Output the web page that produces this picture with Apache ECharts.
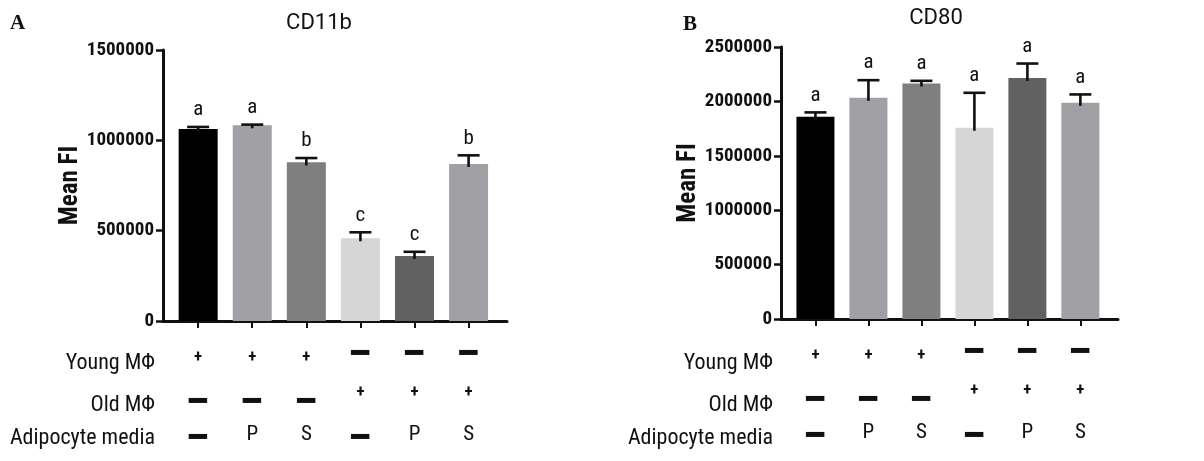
<!DOCTYPE html>
<html>
<head>
<meta charset="utf-8">
<script src="https://cdn.jsdelivr.net/npm/echarts@6/dist/echarts.min.js"></script>
<style>
  html, body { margin: 0; padding: 0; background: #ffffff; }
  #chart { width: 1204px; height: 461px; }
</style>
</head>
<body>
<div id="chart"></div>
<script>
// Treatment table rows (one entry per bar)
const rowNames = ['Young MΦ', 'Old MΦ', 'Adipocyte media'];
const youngMac = ['+', '+', '+', '−', '−', '−'];
const oldMac = ['−', '−', '−', '+', '+', '+'];
const adipocyteMedia = ['−', 'P', 'S', '−', 'P', 'S'];

// CD11b mean fluorescence intensity, SEM and significance letters
const cd11bMean = [1063000, 1083000, 878000, 458000, 360000, 869000];
const cd11bSem = [11000, 4000, 24000, 33000, 23000, 48000];
const cd11bLetters = ['a', 'a', 'b', 'c', 'c', 'b'];
const cd11bTicks = [0, 500000, 1000000, 1500000];

// CD80 mean fluorescence intensity, SEM and significance letters
const cd80Mean = [1859000, 2033000, 2165000, 1758000, 2216000, 1987000];
const cd80Sem = [40000, 162000, 24000, 321000, 132000, 77000];
const cd80Letters = ['a', 'a', 'a', 'a', 'a', 'a'];
const cd80Ticks = [0, 500000, 1000000, 1500000, 2000000, 2500000];

const barColors = ['#000000', '#a0a0a5', '#7f7f7f', '#d6d6d6', '#616161', '#a0a0a5'];
const FONT = "'Roboto Condensed', 'Liberation Sans Narrow', 'Arial Narrow', sans-serif";
const INK = '#111111';

const chart = echarts.init(document.getElementById('chart'), null, { renderer: 'canvas' });

function yAxisFor(gridIndex, ticks) {
  return {
    type: 'value',
    gridIndex: gridIndex,
    min: ticks[0],
    max: ticks[ticks.length - 1],
    interval: ticks[1] - ticks[0],
    name: 'Mean FI',
    nameLocation: 'middle',
    nameGap: 61,
    nameTextStyle: { fontFamily: FONT, fontWeight: 'bold', fontSize: 25, color: INK },
    axisLine: { show: true, onZero: false, lineStyle: { color: INK, width: 3 } },
    axisTick: { show: true, length: 7, lineStyle: { color: INK, width: 2.5 } },
    axisLabel: {
      margin: 9, fontFamily: FONT, fontWeight: 'bold', fontSize: 19, color: INK,
      formatter: v => String(v)
    },
    splitLine: { show: false }
  };
}

function xAxisFor(gridIndex) {
  return {
    type: 'value',
    gridIndex: gridIndex,
    min: -0.65,
    max: 5.71,
    axisLine: { show: true, onZero: false, lineStyle: { color: INK, width: 3 } },
    axisTick: { show: true, customValues: [0, 1, 2, 3, 4, 5], length: 7, lineStyle: { color: INK, width: 2 } },
    axisLabel: { show: false },
    splitLine: { show: false }
  };
}

function barSeries(axisIndex, means, width) {
  return {
    type: 'bar',
    xAxisIndex: axisIndex,
    yAxisIndex: axisIndex,
    barWidth: width,
    z: 2,
    silent: true,
    data: means.map((v, i) => ({ value: [i, v], itemStyle: { color: barColors[i] } }))
  };
}

// Upper error whisker plus the significance letter above it
function errorSeries(axisIndex, means, sems, letters) {
  return {
    type: 'custom',
    xAxisIndex: axisIndex,
    yAxisIndex: axisIndex,
    z: 3,
    silent: true,
    data: means.map((v, i) => [i, v, sems[i]]),
    renderItem: function (params, api) {
      const x = api.value(0);
      const mean = api.value(1);
      const top = api.coord([x, mean]);
      const cap = api.coord([x, mean + api.value(2)]);
      const stroke = { stroke: INK, lineWidth: 2.6 };
      return {
        type: 'group',
        children: [
          { type: 'line', shape: { x1: cap[0], y1: top[1] + 3, x2: cap[0], y2: cap[1] }, style: stroke },
          { type: 'line', shape: { x1: cap[0] - 11, y1: cap[1], x2: cap[0] + 11, y2: cap[1] }, style: stroke },
          {
            type: 'text',
            x: cap[0],
            y: cap[1] - 17,
            style: {
              text: letters[params.dataIndex],
              align: 'center', verticalAlign: 'middle',
              font: '21px ' + FONT, fill: INK
            }
          }
        ]
      };
    }
  };
}

// Treatment table drawn under each bar column
function tableSeries(axisIndex) {
  return {
    type: 'custom',
    xAxisIndex: axisIndex,
    yAxisIndex: axisIndex,
    silent: true,
    clip: false,
    data: youngMac.map((s, i) => [i, 0]),
    renderItem: function (params, api) {
      const i = params.dataIndex;
      const base = api.coord([api.value(0), 0]);
      const cell = (sym, plusDy, minusDy, otherDy) => {
        let dy, font, sx = 1, sy = 1;
        if (sym === '+') { dy = plusDy; font = 'bold 17px ' + FONT; }
        else if (sym === '−') { dy = minusDy; font = '22px "DejaVu Sans"'; sx = 1.1; sy = 0.62; }
        else { dy = otherDy; font = '21px ' + FONT; }
        return {
          type: 'text',
          x: base[0],
          y: base[1] + dy,
          scaleX: sx,
          scaleY: sy,
          style: {
            text: sym === '−' ? '▬' : sym,
            align: 'center', verticalAlign: 'middle', font: font, fill: INK
          }
        };
      };
      return {
        type: 'group',
        children: [
          cell(youngMac[i], 37, 31, 37),
          cell(oldMac[i], 72, 79, 79),
          cell(adipocyteMedia[i], 114, 115, 114)
        ]
      };
    }
  };
}

function rowLabels(rightX) {
  const ys = [363, 405, 438];
  return rowNames.map((t, k) => ({
    type: 'text',
    x: rightX,
    y: ys[k],
    style: { text: t, align: 'right', verticalAlign: 'middle', font: '22px ' + FONT, fill: INK }
  }));
}

const option = {
  backgroundColor: '#ffffff',
  animation: false,
  grid: [
    { left: 163, top: 50, width: 344, height: 271 },
    { left: 781, top: 47, width: 337, height: 272 }
  ],
  xAxis: [xAxisFor(0), xAxisFor(1)],
  yAxis: [yAxisFor(0, cd11bTicks), yAxisFor(1, cd80Ticks)],
  series: [
    barSeries(0, cd11bMean, 39),
    errorSeries(0, cd11bMean, cd11bSem, cd11bLetters),
    tableSeries(0),
    barSeries(1, cd80Mean, 38),
    errorSeries(1, cd80Mean, cd80Sem, cd80Letters),
    tableSeries(1)
  ],
  graphic: [
    { type: 'text', x: 10, y: 24, style: { text: 'A', font: 'bold 21px "Liberation Serif", serif', fill: INK, verticalAlign: 'middle' } },
    { type: 'text', x: 683, y: 25, style: { text: 'B', font: 'bold 21px "Liberation Serif", serif', fill: INK, verticalAlign: 'middle' } },
    { type: 'text', x: 319, y: 23, style: { text: 'CD11b', font: '22px Roboto, sans-serif', fill: INK, align: 'center', verticalAlign: 'middle' } },
    { type: 'text', x: 936, y: 18, style: { text: 'CD80', font: '22px Roboto, sans-serif', fill: INK, align: 'center', verticalAlign: 'middle' } }
  ].concat(rowLabels(155), rowLabels(773))
};

chart.setOption(option);
</script>
</body>
</html>
